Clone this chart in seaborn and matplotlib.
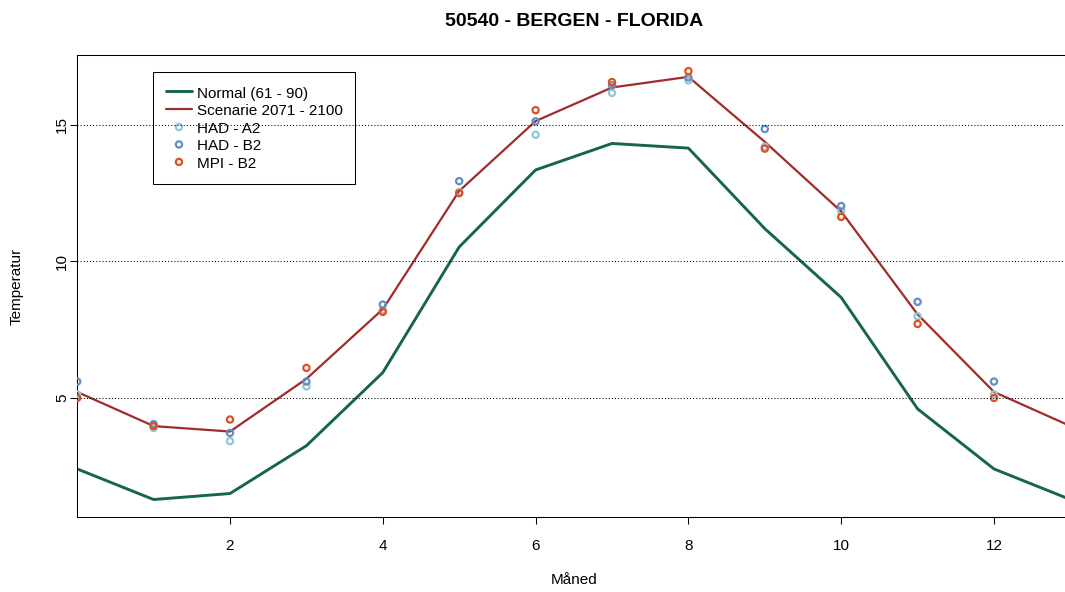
import numpy as np
import pandas as pd
import matplotlib
matplotlib.use("Agg")
import matplotlib.pyplot as plt
import seaborn as sns

# Månedsverdier jan - des, lest av figuren
maaneder = list(range(1, 13))
normal = [1.28, 1.50, 3.25, 5.93, 10.53, 13.35, 14.32, 14.15, 11.20, 8.68, 4.60, 2.40]
scenarie = [3.97, 3.77, 5.70, 8.25, 12.58, 15.14, 16.37, 16.76, 14.38, 11.83, 8.06, 5.22]
had_a2 = [3.90, 3.42, 5.42, 8.21, 12.54, 14.64, 16.17, 16.63, 14.20, 11.85, 7.99, 5.13]
had_b2 = [4.04, 3.72, 5.60, 8.42, 12.94, 15.13, 16.45, 16.74, 14.85, 12.03, 8.52, 5.60]
mpi_b2 = [3.97, 4.21, 6.10, 8.15, 12.50, 15.54, 16.57, 16.97, 14.13, 11.63, 7.71, 5.00]

tittel = "50540 - BERGEN - FLORIDA"
y_ticks = [5, 10, 15]
x_ticks = [2, 4, 6, 8, 10, 12]

# des foran (x=0) og jan bak (x=13), som i originalen
x = [0] + maaneder + [13]
def wrap(v):
    return [v[-1]] + list(v) + [v[0]]

sns.set_style("white")
plt.rcParams['font.family'] = ['Liberation Sans', 'DejaVu Sans']
plt.rcParams['text.color'] = 'black'
plt.rcParams['axes.labelcolor'] = 'black'

fig = plt.figure(figsize=(10.65, 5.92), dpi=100)
ax = fig.add_axes([77.2 / 1065, 75 / 592, 993.2 / 1065, 462 / 592])

sns.lineplot(x=x, y=wrap(normal), color="#17664a", lw=2.1, label="Normal (61 - 90)", ax=ax)
sns.lineplot(x=x, y=wrap(scenarie), color="#a02c29", lw=1.6, label="Scenarie 2071 - 2100", ax=ax)

punkter = [("HAD - A2", had_a2, "#93c6d8"),
           ("HAD - B2", had_b2, "#5f8fc4"),
           ("MPI - B2", mpi_b2, "#e0501e")]
for navn, verdier, farge in punkter:
    sns.scatterplot(x=x, y=wrap(verdier), marker="o", s=20, facecolor="none",
                    edgecolor=farge, linewidth=1.6, label=navn, ax=ax, zorder=4)

ax.set_xlim(0, 13)
ax.set_ylim(0.64, 17.56)
ax.set_xticks(x_ticks)
ax.set_yticks(y_ticks)

# stiplede linjer tegnet over alt, også legenden
for yv in y_ticks:
    ax.axhline(yv, color="black", lw=0.75, ls=(0, (1, 2)), zorder=6)

for s in ax.spines.values():
    s.set_color("black")
    s.set_linewidth(0.75)

ax.tick_params(axis="both", direction="out", length=5, width=0.75, color="black",
               labelsize=11, labelcolor="black")
ax.tick_params(axis="x", pad=10.8, bottom=True)
ax.tick_params(axis="y", pad=5.8, left=True)
plt.setp(ax.get_yticklabels(), rotation=90, ha="center", va="center")

ax.set_xlabel("Måned", fontsize=11)
ax.xaxis.set_label_coords(0.5, (517 - 580) / 462)
ax.xaxis.label.set_va("center")
ax.set_ylabel("Temperatur", fontsize=11)
ax.yaxis.set_label_coords((17 - 77.2) / 993.2, 0.5)
ax.yaxis.label.set_va("center")

fig.text(574 / 1065, 1 - 21 / 592, tittel, ha="center", va="center",
         fontsize=14, fontweight="bold", color="black")

handles, labels = ax.get_legend_handles_labels()
leg = ax.legend(handles, labels, loc="upper left", bbox_to_anchor=((153 - 77.2) / 993.2, (517 - 72) / 462),
                borderaxespad=0, fontsize=11, frameon=True, fancybox=False, framealpha=1,
                edgecolor="black", handlelength=1.7, handletextpad=0.3, labelspacing=0.115,
                handleheight=1.14, borderpad=0.85, scatterpoints=1)
leg.get_frame().set_linewidth(0.75)
leg.set_zorder(5)

fig.savefig("out.png", dpi=100)
